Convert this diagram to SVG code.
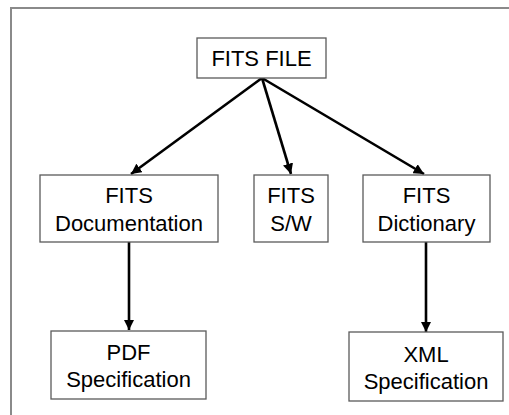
<svg xmlns="http://www.w3.org/2000/svg" width="509" height="415" viewBox="0 0 509 415">
  <style>
    .frame { fill: none; stroke: #8a8a8a; stroke-width: 2; }
    .box { fill: #ffffff; stroke: #5a5a5a; stroke-width: 1.3; }
    .label { font-family: "Liberation Sans", Arial, sans-serif; font-size: 22px; fill: #000; text-anchor: middle; }
    .edge { fill: none; stroke: #000; stroke-width: 2.6; }
  </style>
  <defs>
    <marker id="arrow" viewBox="0 0 10 10" refX="10" refY="5" markerWidth="4" markerHeight="4" markerUnits="strokeWidth" orient="auto">
      <path d="M0,0 L10,5 L0,10 Z" fill="#000"/>
    </marker>
  </defs>

  <rect width="509" height="415" fill="#ffffff"/>
  <rect class="frame" x="11" y="8" width="520" height="430"/>

  <g id="connectors">
    <line class="edge" x1="262" y1="78" x2="131" y2="174" marker-end="url(#arrow)"/>
    <line class="edge" x1="262" y1="78" x2="291" y2="174" marker-end="url(#arrow)"/>
    <line class="edge" x1="262" y1="78" x2="424" y2="174" marker-end="url(#arrow)"/>
    <line class="edge" x1="129" y1="242" x2="129" y2="330" marker-end="url(#arrow)"/>
    <line class="edge" x1="426" y1="242" x2="426" y2="332" marker-end="url(#arrow)"/>
  </g>

  <g id="fits-file">
    <rect class="box" x="197" y="38" width="129" height="40"/>
    <text class="label" x="261.5" y="66">FITS FILE</text>
  </g>

  <g id="fits-documentation">
    <rect class="box" x="40" y="175" width="178" height="67"/>
    <text class="label" x="129" y="203">FITS</text>
    <text class="label" x="129" y="231">Documentation</text>
  </g>

  <g id="fits-sw">
    <rect class="box" x="254" y="175" width="74" height="67"/>
    <text class="label" x="291" y="203">FITS</text>
    <text class="label" x="291" y="231">S/W</text>
  </g>

  <g id="fits-dictionary">
    <rect class="box" x="363" y="175" width="127" height="67"/>
    <text class="label" x="426.5" y="203">FITS</text>
    <text class="label" x="426.5" y="231">Dictionary</text>
  </g>

  <g id="pdf-specification">
    <rect class="box" x="51" y="331" width="155" height="68"/>
    <text class="label" x="128.5" y="360">PDF</text>
    <text class="label" x="128.5" y="387">Specification</text>
  </g>

  <g id="xml-specification">
    <rect class="box" x="349" y="332" width="154" height="69"/>
    <text class="label" x="426" y="362">XML</text>
    <text class="label" x="426" y="389">Specification</text>
  </g>
</svg>
